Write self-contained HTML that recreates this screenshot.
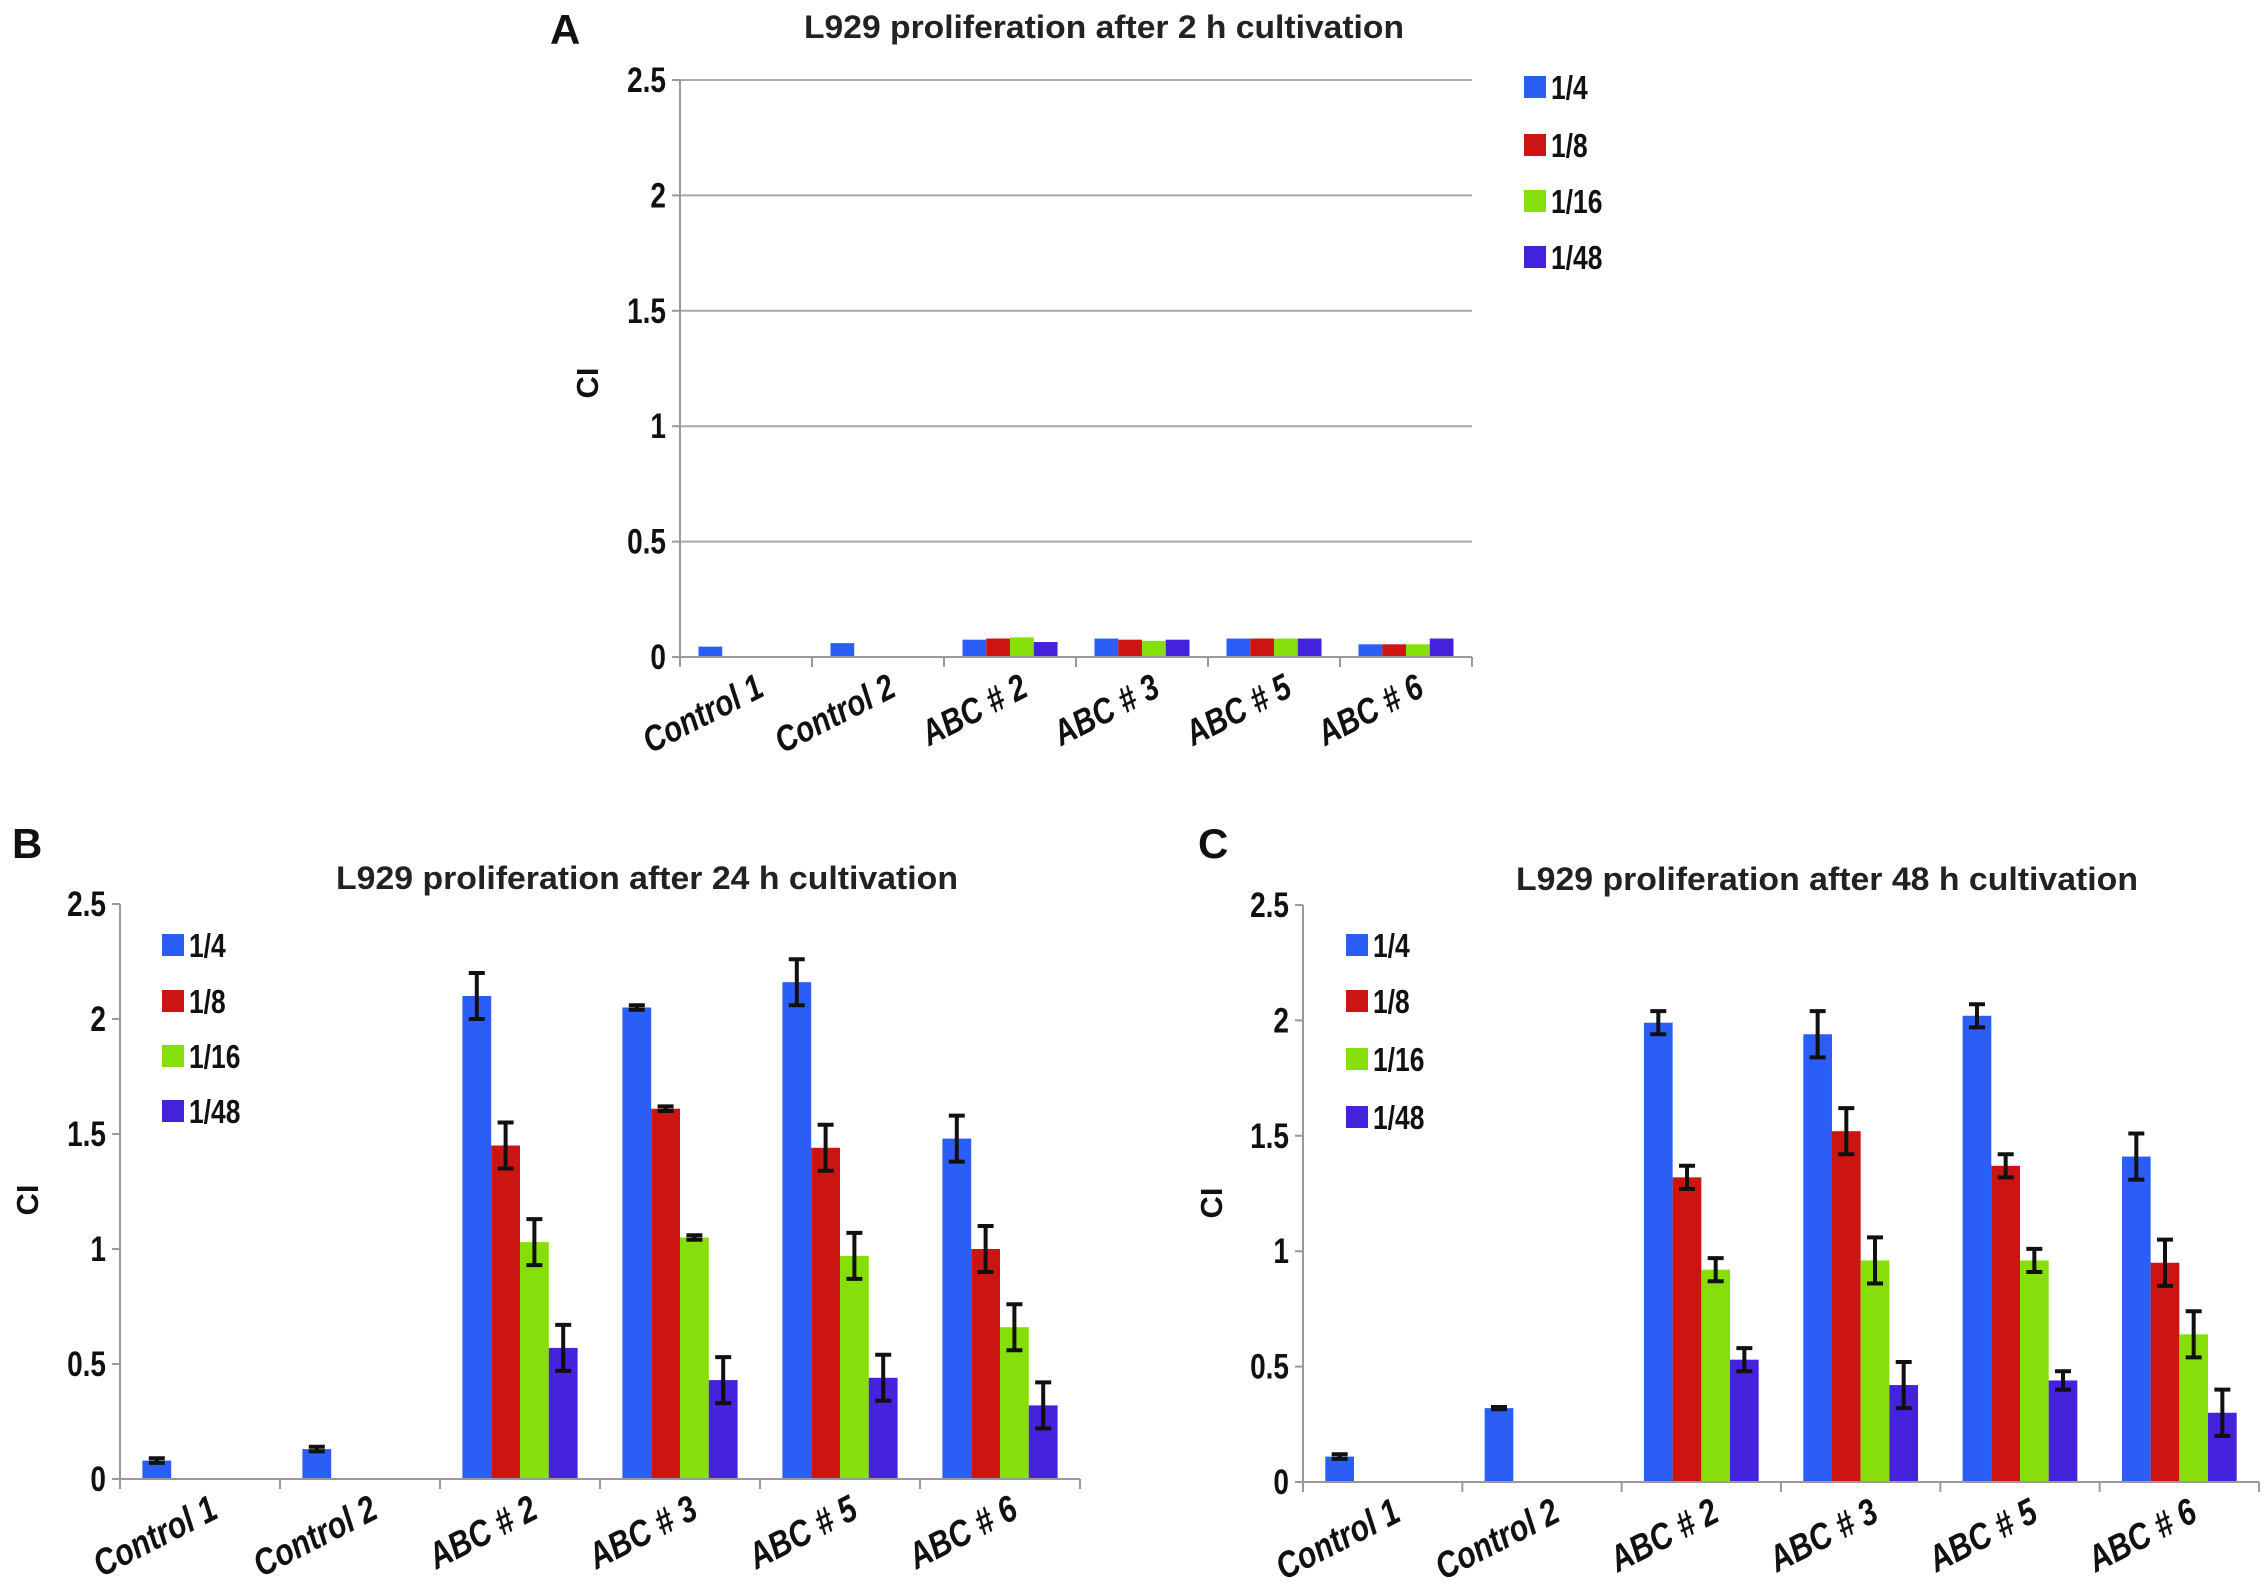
<!DOCTYPE html>
<html><head><meta charset="utf-8"><style>
html,body{margin:0;padding:0;background:#fff;}
svg{display:block;font-family:"Liberation Sans",Arial,sans-serif;}
</style></head><body>
<svg id="fig" width="2268" height="1591" viewBox="0 0 2268 1591" xmlns="http://www.w3.org/2000/svg">
<rect width="2268" height="1591" fill="#fff"/>
</svg>
<script>
const categories = ["Control 1","Control 2","ABC # 2","ABC # 3","ABC # 5","ABC # 6"];
const seriesNames = ["1/4","1/8","1/16","1/48"];
const yTicks = [0,0.5,1,1.5,2,2.5];
const yTickLabels = ["0","0.5","1","1.5","2","2.5"];
// Panel A (2 h)
const a_s1 = [0.045,0.06,0.075,0.08,0.08,0.055];
const a_s2 = [null,null,0.08,0.075,0.08,0.055];
const a_s3 = [null,null,0.085,0.07,0.08,0.055];
const a_s4 = [null,null,0.065,0.075,0.08,0.08];
// Panel B (24 h)
const b_s1 = [0.08,0.13,2.1,2.05,2.16,1.48];
const b_s2 = [null,null,1.45,1.61,1.44,1.0];
const b_s3 = [null,null,1.03,1.05,0.97,0.66];
const b_s4 = [null,null,0.57,0.43,0.44,0.32];
const b_e1 = [0.01,0.01,0.1,0.01,0.1,0.1];
const b_e2 = [0,0,0.1,0.01,0.1,0.1];
const b_e3 = [0,0,0.1,0.01,0.1,0.1];
const b_e4 = [0,0,0.1,0.1,0.1,0.1];
// Panel C (48 h)
const c_s1 = [0.11,0.32,1.99,1.94,2.02,1.41];
const c_s2 = [null,null,1.32,1.52,1.37,0.95];
const c_s3 = [null,null,0.92,0.96,0.96,0.64];
const c_s4 = [null,null,0.53,0.42,0.44,0.30];
const c_e1 = [0.01,0.005,0.05,0.1,0.05,0.1];
const c_e2 = [0,0,0.05,0.1,0.05,0.1];
const c_e3 = [0,0,0.05,0.1,0.05,0.1];
const c_e4 = [0,0,0.05,0.1,0.04,0.1];

const colors = ["#2a5ef4","#cc1512","#86de0a","#4522dc"];
const NS = "http://www.w3.org/2000/svg";
const svg = document.getElementById("fig");
function mk(tag, attrs, parent){const e=document.createElementNS(NS,tag);for(const k in attrs)e.setAttribute(k,attrs[k]);(parent||svg).appendChild(e);return e;}

function drawPanel(p){
  const g = mk("g",{});
  
  
  const yScale = v => p.y0 - (v/2.5)*(p.y0-p.yTop);
  const gw = (p.x1-p.x0)/categories.length;
  const bw = gw*0.18;
  const xBand = (ci,si) => p.x0 + ci*gw + gw*0.14 + si*bw;
  yTicks.forEach((t,i)=>{
    const y=yScale(t);
    if(p.grid && t>0){const l=mk("line",{x1:p.x0,x2:p.x1,y1:y,y2:y,stroke:"#a8a8a8","stroke-width":2},g);
      }
    const tk=mk("line",{x1:p.x0-8,x2:p.x0,y1:y,y2:y,stroke:"#999","stroke-width":2},g);
    
    const tx=mk("text",{x:0,y:0,"text-anchor":"end","font-size":35,"font-weight":"bold",fill:"#111",transform:`translate(${p.x0-14} ${y+12}) scale(0.8 1)`},g);
    tx.textContent=yTickLabels[i];
    
  });
  p.series.forEach((vals,si)=>{
    vals.forEach((v,ci)=>{
      if(v==null) return;
      const x=xBand(ci,si), y=yScale(v);
      const r=mk("rect",{x:x,y:y,width:bw,height:p.y0-y,fill:colors[si]},g);
      
      
      if(p.errs){
        const e=p.errs[si][ci];
        if(e>0){
          const cx=x+bw/2, yt=yScale(v+e), yb=yScale(v-e);
          const eg=mk("g",{stroke:"#111","stroke-width":4},g);
          
          mk("line",{x1:cx,x2:cx,y1:yt,y2:yb},eg);
          mk("line",{x1:cx-8,x2:cx+8,y1:yt,y2:yt},eg);
          mk("line",{x1:cx-8,x2:cx+8,y1:yb,y2:yb},eg);
        }
      }
    });
  });
  const ya=mk("line",{x1:p.x0,x2:p.x0,y1:p.yTop,y2:p.y0+10,stroke:"#999","stroke-width":2},g);
  
  const xa=mk("line",{x1:p.x0,x2:p.x1,y1:p.y0,y2:p.y0,stroke:"#999","stroke-width":2},g);
  
  categories.forEach((c,ci)=>{
    const tx0=p.x0+(ci+1)*gw;
    const t=mk("line",{x1:tx0,x2:tx0,y1:p.y0,y2:p.y0+10,stroke:"#999","stroke-width":2},g);
    
    const cx=p.x0+(ci+0.5)*gw+20, cy=p.y0+38;
    const tx=mk("text",{x:0,y:0,"text-anchor":"end","font-size":p.catSize,"font-weight":"bold","font-style":"italic",fill:"#111",transform:`translate(${cx} ${cy}) rotate(-27) scale(0.82 1)`},g);
    tx.textContent=c;
    
  });
  const ti=mk("text",{x:p.titleX,y:p.titleY,"text-anchor":"middle","font-size":32,"font-weight":"bold",fill:"#222",textLength:p.titleW,lengthAdjust:"spacingAndGlyphs"},g);
  ti.textContent=p.title;
  
  const pl=mk("text",{x:p.letterX,y:p.letterY,"font-size":42,"font-weight":"bold",fill:"#111"},g);
  pl.textContent=p.letter;
  
  const yl=mk("text",{x:p.ylX,y:p.ylY,"text-anchor":"middle","font-size":31,"font-weight":"bold",fill:"#111",transform:`rotate(-90 ${p.ylX} ${p.ylY})`},g);
  yl.textContent="CI";
  
  seriesNames.forEach((s,si)=>{
    const cy=p.legY[si];
    const lg=mk("g",{},g);
    
    mk("rect",{x:p.legX,y:cy-11,width:22,height:22,fill:colors[si]},lg);
    const lt=mk("text",{x:0,y:0,"font-size":33,"font-weight":"bold",fill:"#111",transform:`translate(${p.legX+27} ${cy+12}) scale(0.8 1)`},lg);
    lt.textContent=s;
  });
}

drawPanel({name:"chart-2h",x0:680,x1:1472,yTop:80,y0:657,grid:true,catSize:36,
  series:[a_s1,a_s2,a_s3,a_s4],errs:null,
  title:"L929 proliferation after 2 h cultivation",titleX:1104,titleY:38,titleW:600,
  letter:"A",letterX:550,letterY:44,ylX:598,ylY:383,
  legX:1524,legY:[87,145,201,257]});
drawPanel({name:"chart-24h",x0:120,x1:1080,yTop:904,y0:1479,grid:false,catSize:37,
  series:[b_s1,b_s2,b_s3,b_s4],errs:[b_e1,b_e2,b_e3,b_e4],
  title:"L929 proliferation after 24 h cultivation",titleX:647,titleY:889,titleW:622,
  letter:"B",letterX:12,letterY:858,ylX:38,ylY:1200,
  legX:162,legY:[945,1001,1056,1111]});
drawPanel({name:"chart-48h",x0:1303,x1:2259,yTop:905,y0:1482,grid:false,catSize:37,
  series:[c_s1,c_s2,c_s3,c_s4],errs:[c_e1,c_e2,c_e3,c_e4],
  title:"L929 proliferation after 48 h cultivation",titleX:1827,titleY:890,titleW:622,
  letter:"C",letterX:1198,letterY:858,ylX:1222,ylY:1203,
  legX:1346,legY:[945,1001,1059,1117]});
</script>
</body></html>
